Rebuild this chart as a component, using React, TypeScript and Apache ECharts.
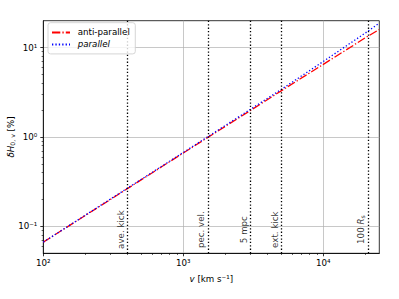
import React, { useEffect, useRef } from 'react';
import * as echarts from 'echarts';

// ---- data ----
const velocities = [100, 300, 1000, 3000, 5000, 10000, 20000, 25000]; // km/s
const parallelValues = [0.0667, 0.201, 0.671, 2.03, 3.4, 7.0, 14.6, 18.7]; // %
const antiParallelValues = [0.0666, 0.199, 0.663, 1.97, 3.28, 6.5, 12.9, 15.9]; // %
const markerVelocities = [400, 1500, 3000, 5000, 20800];
const markerLabels = ['ave. kick', 'pec. vel.', '5 mpc', 'ext. kick', '100 {it|R}{sub|s}'];
const markerLabelLevel = 0.092;
const xRange = [100, 25119];
const yRange = [0.05, 20];
const xMajorExponents = [2, 3, 4];
const yMajorExponents = [-1, 0, 1];
const minorMantissas = [2, 3, 4, 5, 6, 7, 8, 9];
const xMinorDecades = [100, 1000, 10000];
const yMinorDecades = [0.01, 0.1, 1, 10];

const FONT = 'DejaVu Sans';
const FS = 8.7;

const lg = (v: number) => Math.log10(v);
const SUP: Record<string, string> = {
  '-': '⁻', '0': '⁰', '1': '¹', '2': '²', '3': '³', '4': '⁴', '5': '⁵', '6': '⁶', '7': '⁷', '8': '⁸', '9': '⁹',
};
const sup = (n: number) => String(Math.round(n)).split('').map((c) => SUP[c] || c).join('');

function minorTicks(decades: number[], lo: number, hi: number) {
  const out: number[] = [];
  decades.forEach((d) => minorMantissas.forEach((m) => {
    const v = lg(m * d);
    if (v > lo + 1e-6 && v < hi - 1e-6) out.push(v);
  }));
  return out;
}

export default function App() {
  const ref = useRef<HTMLDivElement>(null);
  useEffect(() => {
    if (!ref.current) return;
    const chart = echarts.init(ref.current, null, { renderer: 'svg' });
    const xMin = lg(xRange[0]);
    const xMax = lg(xRange[1]);
    const yMin = lg(yRange[0]);
    const yMax = lg(yRange[1]);
    const xMinor = minorTicks(xMinorDecades, xMin, xMax);
    const yMinor = minorTicks(yMinorDecades, yMin, yMax);
    const black = '#000000';
    const axisLineStyle = { color: black, width: 0.8 };

    const option: any = {
      animation: false,
      textStyle: { fontFamily: FONT },
      grid: {
        left: 43.3, right: 19.7, top: 20.7, bottom: 45.7,
        containLabel: false, outerBoundsMode: 'none',
        show: true, borderColor: black, borderWidth: 0.8, backgroundColor: 'transparent',
      },
      legend: {
        orient: 'vertical',
        left: 48, top: 22.7, z: 20,
        itemWidth: 18, itemHeight: 8, itemGap: 3,
        padding: [5.2, 5.5, 5, 3],
        backgroundColor: 'rgba(255,255,255,0.8)',
        borderColor: '#cccccc', borderWidth: 0.8, borderRadius: 2.5,
        itemStyle: { opacity: 0 },
        data: ['anti-parallel', 'parallel'],
        formatter: (name: string) => (name === 'parallel' ? '{it|parallel}' : name),
        textStyle: {
          fontSize: FS, color: black, fontFamily: FONT, padding: [0, 0, 0, 2.7],
          rich: { it: { fontStyle: 'italic', fontSize: FS, fontFamily: FONT, color: black } },
        },
      },
      xAxis: [
        {
          type: 'value', min: xMin, max: xMax, position: 'bottom',
          name: '{it|v} [km s⁻¹]', nameLocation: 'middle', nameGap: 21, nameMoveOverlap: false,
          nameTextStyle: {
            fontSize: FS, color: black, fontFamily: FONT,
            rich: { it: { fontStyle: 'italic', fontSize: FS, fontFamily: FONT, color: black } },
          },
          axisLine: { show: true, onZero: false, lineStyle: axisLineStyle },
          axisTick: { show: true, customValues: xMajorExponents, length: 3, lineStyle: axisLineStyle },
          axisLabel: {
            show: true, customValues: xMajorExponents, margin: 5,
            formatter: (v: number) => '10' + sup(v),
            fontSize: FS, color: black, fontFamily: FONT,
          },
          splitLine: { show: true, lineStyle: { color: '#b0b0b0', width: 0.7 } },
        },
        {
          type: 'value', min: xMin, max: xMax, position: 'bottom',
          axisLine: { show: false, onZero: false },
          axisTick: { show: true, customValues: xMinor, length: 1.7, lineStyle: { color: black, width: 0.6 } },
          axisLabel: { show: false },
          splitLine: { show: false },
        },
      ],
      yAxis: [
        {
          type: 'value', min: yMin, max: yMax, position: 'left',
          name: '{it|δH}{sub|0, v} [%]', nameLocation: 'middle', nameGap: 28, nameMoveOverlap: false,
          nameTextStyle: {
            fontSize: FS, color: black, fontFamily: FONT,
            rich: {
              it: { fontStyle: 'italic', fontSize: FS, fontFamily: FONT, color: black },
              sub: { fontSize: 6.2, fontFamily: FONT, color: black, verticalAlign: 'bottom' },
            },
          },
          axisLine: { show: true, onZero: false, lineStyle: axisLineStyle },
          axisTick: { show: true, customValues: yMajorExponents, length: 3, lineStyle: axisLineStyle },
          axisLabel: {
            show: true, customValues: yMajorExponents, margin: 6,
            formatter: (v: number) => '10' + sup(v),
            fontSize: FS, color: black, fontFamily: FONT,
          },
          splitLine: { show: true, lineStyle: { color: '#b0b0b0', width: 0.7 } },
        },
        {
          type: 'value', min: yMin, max: yMax, position: 'left',
          axisLine: { show: false, onZero: false },
          axisTick: { show: true, customValues: yMinor, length: 1.7, lineStyle: { color: black, width: 0.6 } },
          axisLabel: { show: false },
          splitLine: { show: false },
        },
      ],
      series: [
        {
          name: 'anti-parallel', type: 'line', xAxisIndex: 0, yAxisIndex: 0,
          symbol: 'none', z: 3,
          data: velocities.map((v, i) => [lg(v), lg(antiParallelValues[i])]),
          lineStyle: { color: '#ff0000', width: 1.3, type: [8.3, 2.1, 1.3, 2.1], cap: 'butt' },
          itemStyle: { color: '#ff0000' },
        },
        {
          name: 'parallel', type: 'line', xAxisIndex: 0, yAxisIndex: 0,
          symbol: 'none', z: 4,
          data: velocities.map((v, i) => [lg(v), lg(parallelValues[i])]),
          lineStyle: { color: '#0000ff', width: 1.3, type: [1.3, 2.1], cap: 'butt' },
          itemStyle: { color: '#0000ff' },
        },
        {
          name: 'markers', type: 'scatter', xAxisIndex: 0, yAxisIndex: 0,
          symbol: 'circle', symbolSize: 1, z: 5, silent: true,
          itemStyle: { color: 'rgba(0,0,0,0)' },
          data: markerVelocities.map((v) => [lg(v), lg(markerLabelLevel)]),
          label: {
            show: true, rotate: 90, position: [-6, 0.5], align: 'center', verticalAlign: 'middle',
            formatter: (p: any) => markerLabels[p.dataIndex],
            fontSize: FS, color: black, fontFamily: FONT,
            rich: {
              it: { fontStyle: 'italic', fontSize: FS, fontFamily: FONT, color: black },
              sub: { fontSize: 6.2, fontFamily: FONT, color: black, verticalAlign: 'bottom' },
            },
          },
          markLine: {
            silent: true, symbol: 'none', animation: false,
            label: { show: false },
            lineStyle: { color: black, width: 1.3, type: [1.3, 2.1], cap: 'butt' },
            emphasis: { disabled: true },
            data: markerVelocities.map((v) => ({ xAxis: lg(v) })),
          },
        },
      ],
    };
    chart.setOption(option);
    return () => chart.dispose();
  }, []);
  return <div ref={ref} style={{ position: 'absolute', left: 0, top: 0, width: 399, height: 299 }} />;
}
